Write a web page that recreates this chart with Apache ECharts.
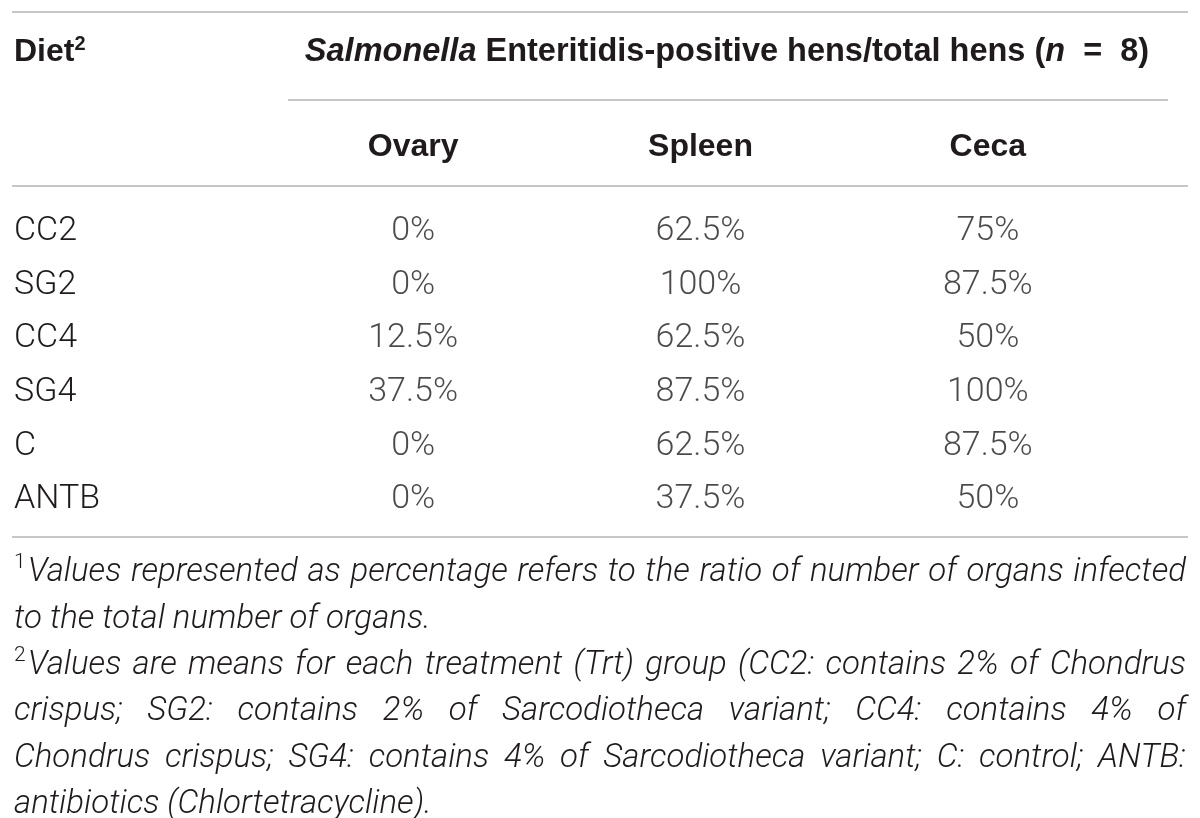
<!DOCTYPE html>
<html>
<head>
<meta charset="utf-8">
<script src="https://cdn.jsdelivr.net/npm/echarts@6/dist/echarts.min.js"></script>
<style>
  html, body { margin: 0; padding: 0; background: #fff; }
  #main { width: 1200px; height: 818px; }
</style>
</head>
<body>
<div id="main"></div>
<script>
// table data
var diets = ['CC2', 'SG2', 'CC4', 'SG4', 'C', 'ANTB'];
var organs = ['Ovary', 'Spleen', 'Ceca'];
var ovary = [0, 0, 12.5, 37.5, 0, 0];
var spleen = [62.5, 100, 62.5, 87.5, 62.5, 37.5];
var ceca = [75, 87.5, 50, 100, 87.5, 50];

var notes = [
  { sup: '1', text: 'Values represented as percentage refers to the ratio of number of organs infected', justify: true },
  { text: 'to the total number of organs.' },
  { sup: '2', text: 'Values are means for each treatment (Trt) group (CC2: contains 2% of Chondrus', justify: true },
  { text: 'crispus; SG2: contains 2% of Sarcodiotheca variant; CC4: contains 4% of', justify: true },
  { text: 'Chondrus crispus; SG4: contains 4% of Sarcodiotheca variant; C: control; ANTB:', justify: true },
  { text: 'antibiotics (Chlortetracycline).' }
];

var INK = '#1f1b1c';
var RULE = '#c6c6c6';
var BODY = 'Roboto';
var HEAD = '"Liberation Sans", Arial, sans-serif';

var cols = [ovary, spleen, ceca];
var cells = [];
cols.forEach(function (arr, c) {
  arr.forEach(function (v, r) { cells.push([c, r, v]); });
});

// footnotes, justified like the print version
var cv = document.createElement('canvas').getContext('2d');
var noteFont = 'italic 300 33px ' + BODY;
var supFont = '300 21px ' + BODY;
var left = 14, right = 1186, top0 = 573, step = 46.4;
var noteEls = [];
notes.forEach(function (ln, i) {
  var y = top0 + i * step;
  var x = left;
  if (ln.sup) {
    cv.font = supFont;
    noteEls.push({ type: 'text', style: { text: ln.sup, x: x, y: y - 10, font: supFont, fill: INK, verticalAlign: 'middle' } });
    x += cv.measureText(ln.sup).width + 2;
  }
  cv.font = noteFont;
  if (!ln.justify) {
    noteEls.push({ type: 'text', style: { text: ln.text, x: x, y: y, font: noteFont, fill: INK, verticalAlign: 'middle' } });
    return;
  }
  var words = ln.text.split(' ');
  var ws = words.map(function (w) { return cv.measureText(w).width; });
  var sum = ws.reduce(function (a, b) { return a + b; }, 0);
  var gap = (right - x - sum) / (words.length - 1);
  words.forEach(function (w, k) {
    noteEls.push({ type: 'text', style: { text: w, x: x, y: y, font: noteFont, fill: INK, verticalAlign: 'middle' } });
    x += ws[k] + gap;
  });
});

var myChart = echarts.init(document.getElementById('main'));
var option = {
  backgroundColor: '#fff',
  animation: false,
  grid: { left: 269.5, right: 68.5, top: 204.5, bottom: 291.5 },
  xAxis: {
    type: 'category',
    data: organs,
    position: 'top',
    axisLine: { show: false },
    axisTick: { show: false },
    splitLine: { show: false },
    axisLabel: { color: INK, fontFamily: HEAD, fontWeight: 'bold', fontSize: 32, margin: 41 }
  },
  yAxis: {
    type: 'category',
    data: diets,
    inverse: true,
    axisLine: { show: false },
    axisTick: { show: false },
    splitLine: { show: false },
    axisLabel: { color: INK, fontFamily: BODY, fontWeight: 300, fontSize: 34, align: 'left', margin: 255.5 }
  },
  series: [{
    type: 'scatter',
    data: cells,
    symbolSize: 1,
    silent: true,
    itemStyle: { color: 'rgba(0,0,0,0)' },
    label: {
      show: true,
      position: 'inside',
      color: INK,
      fontFamily: BODY,
      fontWeight: 300,
      fontSize: 34,
      formatter: function (p) { return p.value[2] + '%'; }
    }
  }],
  graphic: [
    // rules
    { type: 'line', shape: { x1: 12, y1: 12, x2: 1188, y2: 12 }, style: { stroke: RULE, lineWidth: 2 } },
    { type: 'line', shape: { x1: 288, y1: 100, x2: 1168, y2: 100 }, style: { stroke: RULE, lineWidth: 2 } },
    { type: 'line', shape: { x1: 12, y1: 186, x2: 1188, y2: 186 }, style: { stroke: RULE, lineWidth: 2 } },
    { type: 'line', shape: { x1: 12, y1: 537, x2: 1188, y2: 537 }, style: { stroke: RULE, lineWidth: 2 } },
    // header texts
    {
      type: 'text',
      style: {
        text: '{b|Diet}{s|2}', x: 14, y: 52, verticalAlign: 'middle', fill: INK,
        rich: {
          b: { fontFamily: HEAD, fontWeight: 'bold', fontSize: 32, lineHeight: 36, fill: INK },
          s: { fontFamily: HEAD, fontWeight: 'bold', fontSize: 20, lineHeight: 22, verticalAlign: 'top', fill: INK }
        }
      }
    },
    {
      type: 'text',
      style: {
        text: '{i|Salmonella}{b| Enteritidis-positive hens/total hens (}{i|n}{b|  =  8)}',
        x: 727, y: 52, align: 'center', verticalAlign: 'middle', fill: INK,
        rich: {
          b: { fontFamily: HEAD, fontWeight: 'bold', fontSize: 32.5, fill: INK },
          i: { fontFamily: HEAD, fontWeight: 'bold', fontStyle: 'italic', fontSize: 32.5, fill: INK }
        }
      }
    }
  ].concat(noteEls)
};
myChart.setOption(option);
</script>
</body>
</html>
